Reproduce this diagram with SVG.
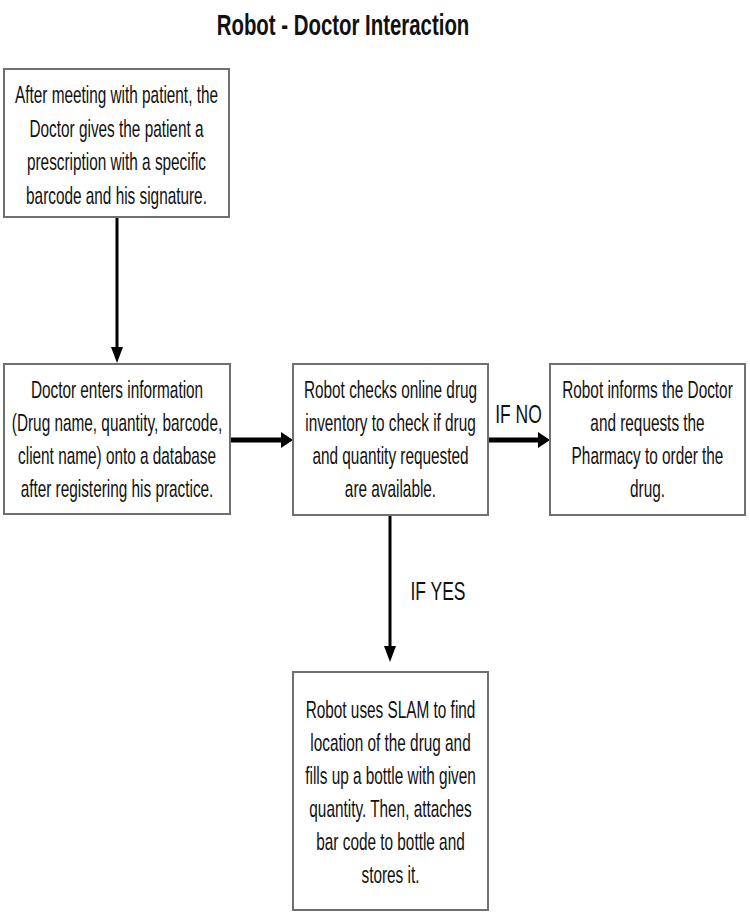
<svg xmlns="http://www.w3.org/2000/svg" width="750" height="923" viewBox="0 0 750 923">
  <style>
    .box { fill: #ffffff; stroke: #707070; stroke-width: 2; }
    .t { font-family: "Liberation Sans", Arial, sans-serif; font-size: 24px; fill: #111111; text-anchor: middle; }
    .lbl { font-family: "Liberation Sans", Arial, sans-serif; font-size: 25px; fill: #111111; text-anchor: middle; }
    .title { font-family: "Liberation Sans", Arial, sans-serif; font-size: 30px; font-weight: bold; fill: #111111; text-anchor: middle; }
    .thin { stroke: #000000; stroke-width: 3; fill: none; }
    .thick { stroke: #000000; stroke-width: 5; fill: none; }
  </style>
  <defs>
    <marker id="ah-thin" markerUnits="userSpaceOnUse" viewBox="0 0 16 12" markerWidth="16" markerHeight="12" refX="0" refY="6" orient="auto">
      <path d="M0,0 L16,6 L0,12 z" fill="#000000"/>
    </marker>
    <marker id="ah-thick" markerUnits="userSpaceOnUse" viewBox="0 0 12 16" markerWidth="12" markerHeight="16" refX="0" refY="8" orient="auto">
      <path d="M0,0 L12,8 L0,16 z" fill="#000000"/>
    </marker>
  </defs>
  <rect x="0" y="0" width="750" height="923" fill="#ffffff"/>

  <g id="title" transform="translate(343 0) scale(0.68 1)">
    <text class="title" x="0" y="35">Robot - Doctor Interaction</text>
  </g>

  <g id="connectors">
    <line class="thin" x1="117" y1="218" x2="117" y2="347" marker-end="url(#ah-thin)"/>
    <line class="thick" x1="231" y1="440" x2="281" y2="440" marker-end="url(#ah-thick)"/>
    <line class="thick" x1="488" y1="440" x2="538" y2="440" marker-end="url(#ah-thick)"/>
    <line class="thin" x1="390" y1="515" x2="390" y2="646" marker-end="url(#ah-thin)"/>
    <g transform="translate(518.5 0) scale(0.7 1)">
      <text class="lbl" x="0" y="423">IF NO</text>
    </g>
    <g transform="translate(438 0) scale(0.7 1)">
      <text class="lbl" x="0" y="600">IF YES</text>
    </g>
  </g>

  <g id="node-prescription">
    <rect class="box" x="4" y="69" width="225" height="148"/>
    <g transform="translate(116.5 0) scale(0.64 1)">
      <text class="t" x="0" y="103">After meeting with patient, the</text>
      <text class="t" x="0" y="137">Doctor gives the patient a</text>
      <text class="t" x="0" y="170">prescription with a specific</text>
      <text class="t" x="0" y="204">barcode and his signature.</text>
    </g>
  </g>

  <g id="node-database">
    <rect class="box" x="4" y="364" width="226" height="150"/>
    <g transform="translate(117 0) scale(0.64 1)">
      <text class="t" x="0" y="398">Doctor enters information</text>
      <text class="t" x="0" y="431">(Drug name, quantity, barcode,</text>
      <text class="t" x="0" y="464">client name) onto a database</text>
      <text class="t" x="0" y="497">after registering his practice.</text>
    </g>
  </g>

  <g id="node-check">
    <rect class="box" x="293" y="364" width="195" height="151"/>
    <g transform="translate(390.5 0) scale(0.64 1)">
      <text class="t" x="0" y="398">Robot checks online drug</text>
      <text class="t" x="0" y="431">inventory to check if drug</text>
      <text class="t" x="0" y="464">and quantity requested</text>
      <text class="t" x="0" y="497">are available.</text>
    </g>
  </g>

  <g id="node-inform">
    <rect class="box" x="550" y="364" width="195" height="151"/>
    <g transform="translate(647.5 0) scale(0.64 1)">
      <text class="t" x="0" y="398">Robot informs the Doctor</text>
      <text class="t" x="0" y="431">and requests the</text>
      <text class="t" x="0" y="464">Pharmacy to order the</text>
      <text class="t" x="0" y="497">drug.</text>
    </g>
  </g>

  <g id="node-slam">
    <rect class="box" x="293" y="672" width="195" height="238"/>
    <g transform="translate(390.5 0) scale(0.64 1)">
      <text class="t" x="0" y="718">Robot uses SLAM to find</text>
      <text class="t" x="0" y="751">location of the drug and</text>
      <text class="t" x="0" y="784">fills up a bottle with given</text>
      <text class="t" x="0" y="817">quantity. Then, attaches</text>
      <text class="t" x="0" y="850">bar code to bottle and</text>
      <text class="t" x="0" y="883">stores it.</text>
    </g>
  </g>
</svg>
